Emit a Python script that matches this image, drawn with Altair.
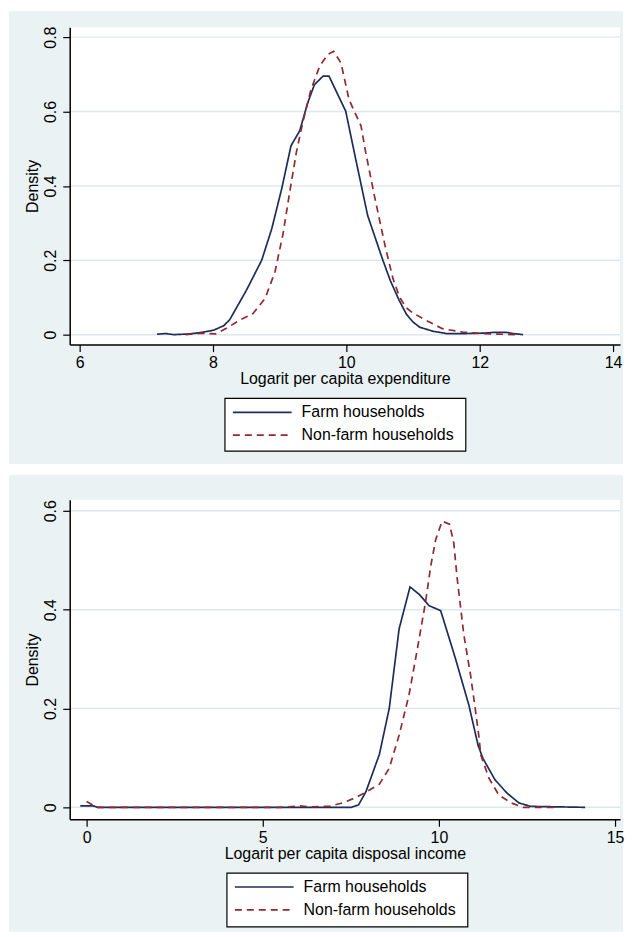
import altair as alt
import pandas as pd

# ---------------- data ----------------
series_names = ["Farm households", "Non-farm households"]

# Panel 1: log per capita expenditure
exp_farm_x = [7.16, 7.29, 7.41, 7.65, 7.83, 8.01, 8.16, 8.25, 8.50, 8.73, 8.88, 9.03, 9.17, 9.30,
              9.42, 9.52, 9.65, 9.74, 9.99, 10.14, 10.32, 10.54, 10.66, 10.79, 10.90, 11.00, 11.10,
              11.30, 11.50, 11.80, 12.05, 12.20, 12.40, 12.50, 12.65]
exp_farm_y = [0.001, 0.003, 0.000, 0.002, 0.006, 0.012, 0.024, 0.040, 0.119, 0.200, 0.284, 0.392,
              0.508, 0.548, 0.623, 0.672, 0.695, 0.695, 0.601, 0.472, 0.320, 0.204, 0.145, 0.093,
              0.055, 0.034, 0.020, 0.009, 0.003, 0.003, 0.004, 0.006, 0.006, 0.003, 0.000]

exp_nonfarm_x = [7.59, 7.83, 8.04, 8.20, 8.40, 8.60, 8.78, 8.93, 9.05, 9.15, 9.25, 9.35, 9.47, 9.60,
                 9.72, 9.81, 9.92, 10.04, 10.22, 10.29, 10.42, 10.59, 10.70, 10.80, 10.90, 11.00,
                 11.20, 11.44, 11.74, 12.04, 12.34, 12.55]
exp_nonfarm_y = [0.000, 0.004, 0.002, 0.017, 0.039, 0.057, 0.097, 0.169, 0.271, 0.383, 0.490, 0.574,
                 0.659, 0.722, 0.753, 0.762, 0.730, 0.632, 0.561, 0.490, 0.374, 0.231, 0.150, 0.100,
                 0.072, 0.058, 0.038, 0.016, 0.007, 0.003, 0.001, 0.000]

# Panel 2: log per capita disposable income
inc_farm_x = [-0.18, 0.19, 0.31, 7.51, 7.72, 7.93, 8.31, 8.59, 8.87, 9.18, 9.44, 9.72, 10.05, 10.47,
              10.85, 11.11, 11.25, 11.59, 11.93, 12.27, 12.60, 14.15]
inc_farm_y = [0.003, 0.003, 0.000, 0.000, 0.005, 0.032, 0.107, 0.200, 0.361, 0.446, 0.431, 0.408,
              0.398, 0.301, 0.207, 0.126, 0.099, 0.056, 0.029, 0.009, 0.002, 0.000]

inc_nonfarm_x = [0.00, 0.28, 5.50, 6.06, 6.30, 6.69, 6.89, 7.27, 7.65, 7.93, 8.31, 8.59, 8.87, 9.15,
                 9.39, 9.62, 9.77, 9.91, 10.09, 10.30, 10.42, 10.52, 10.71, 10.90, 11.03, 11.13,
                 11.19, 11.42, 11.70, 12.05, 12.39, 13.30]
inc_nonfarm_y = [0.012, 0.000, 0.000, 0.003, 0.001, 0.002, 0.002, 0.009, 0.020, 0.031, 0.047, 0.079,
                 0.146, 0.227, 0.321, 0.415, 0.489, 0.542, 0.579, 0.573, 0.536, 0.462, 0.348, 0.267,
                 0.200, 0.146, 0.106, 0.059, 0.025, 0.009, 0.000, 0.000]

exp_xticks = [6, 8, 10, 12, 14]
exp_yticks = [0, 0.2, 0.4, 0.6, 0.8]
inc_xticks = [0, 5, 10, 15]
inc_yticks = [0, 0.2, 0.4, 0.6]

titles = ["Logarit per capita expenditure", "Logarit per capita disposal income"]
y_title = "Density"

# ---------------- style ----------------
FONT = "Liberation Sans"
BG = "#eaf2f3"
GRID = "#dde8ec"
COLORS = ["#1d2d5a", "#8e2a30"]
DASH = [7, 5]


def make_df(xs1, ys1, xs2, ys2):
    rows = []
    for x, y in zip(xs1, ys1):
        rows.append({"x": x, "y": y, "s": series_names[0]})
    for x, y in zip(xs2, ys2):
        rows.append({"x": x, "y": y, "s": series_names[1]})
    return pd.DataFrame(rows)


def panel(df, xdom, ydom, xticks, yticks, xtitle, W, H, bg_top, bg_bot, leg):
    xs = alt.Scale(domain=xdom, nice=False, zero=False)
    ys = alt.Scale(domain=ydom, nice=False, zero=False)
    one = alt.Data(values=[{}])
    yaxis = alt.Axis(values=yticks, grid=False, zindex=1, tickSize=7,
                     labelAngle=270, labelAlign="center", labelBaseline="bottom",
                     labelPadding=4, titlePadding=2, format="~g")
    xaxis = alt.Axis(values=xticks, grid=False, zindex=1, tickSize=7,
                     labelPadding=3, titlePadding=0, format="~g")

    bg = alt.Chart(one).mark_rect(fill=BG).encode(
        x=alt.value(-61), x2=alt.value(W + 3), y=alt.value(bg_top), y2=alt.value(bg_bot))
    white = alt.Chart(one).mark_rect(fill="white").encode(
        x=alt.value(0), x2=alt.value(W), y=alt.value(0), y2=alt.value(H))
    grid = alt.Chart(pd.DataFrame({"y": yticks})).mark_rule(color=GRID, strokeWidth=1.5).encode(
        y=alt.Y("y:Q", scale=ys, title=y_title, axis=yaxis), x=alt.value(0), x2=alt.value(W))

    lines = alt.Chart(df).mark_line(strokeWidth=1.7).encode(
        x=alt.X("x:Q", scale=xs, title=xtitle, axis=xaxis),
        y=alt.Y("y:Q", scale=ys, title=y_title, axis=yaxis),
        color=alt.Color("s:N", scale=alt.Scale(domain=series_names, range=COLORS), legend=None),
        strokeDash=alt.StrokeDash("s:N", scale=alt.Scale(domain=series_names, range=[[1, 0], DASH]),
                                  legend=None),
        order=alt.Order("x:Q"),
    )

    bx0, bx1, by0, by1, r1, r2 = leg
    box = alt.Chart(one).mark_rect(fill="white", stroke="black", strokeWidth=1.2).encode(
        x=alt.value(bx0), x2=alt.value(bx1), y=alt.value(by0), y2=alt.value(by1))
    l1 = alt.Chart(one).mark_rule(color=COLORS[0], strokeWidth=1.7).encode(
        x=alt.value(bx0 + 8), x2=alt.value(bx0 + 67), y=alt.value(r1))
    l2 = alt.Chart(one).mark_rule(color=COLORS[1], strokeWidth=1.7, strokeDash=DASH).encode(
        x=alt.value(bx0 + 8), x2=alt.value(bx0 + 67), y=alt.value(r2))
    t1 = alt.Chart(alt.Data(values=[{"s": series_names[0]}])).mark_text(
        align="left", baseline="middle", font=FONT, fontSize=16, color="black").encode(
        text="s:N", x=alt.value(bx0 + 77), y=alt.value(r1))
    t2 = alt.Chart(alt.Data(values=[{"s": series_names[1]}])).mark_text(
        align="left", baseline="middle", font=FONT, fontSize=16, color="black").encode(
        text="s:N", x=alt.value(bx0 + 77), y=alt.value(r2))

    return alt.layer(bg, white, grid, lines, box, l1, l2, t1, t2).properties(width=W, height=H)


df1 = make_df(exp_farm_x, exp_farm_y, exp_nonfarm_x, exp_nonfarm_y)
df2 = make_df(inc_farm_x, inc_farm_y, inc_nonfarm_x, inc_nonfarm_y)

top = panel(df1, [5.851, 14.104], [-0.0268, 0.8268], exp_xticks, exp_yticks, titles[0],
            553, 319, -16, 439, (156, 398, 373, 426, 387, 410))
bottom = panel(df2, [-0.48, 15.141], [-0.0242, 0.6221], inc_xticks, inc_yticks, titles[1],
               553, 321, -25, 434, (158, 400, 375, 429, 389, 412))

chart = alt.vconcat(top, bottom, spacing=9).properties(
    padding=0, background="white"
).configure_view(stroke="transparent").configure_axis(
    labelFont=FONT, titleFont=FONT, labelFontSize=16, titleFontSize=16,
    titleFontWeight="normal", labelColor="black", titleColor="black",
    domainColor="black", domainWidth=1.5, tickColor="black", tickWidth=1.2,
)

chart.save("out.html", embed_options={"renderer": "svg", "actions": False})
